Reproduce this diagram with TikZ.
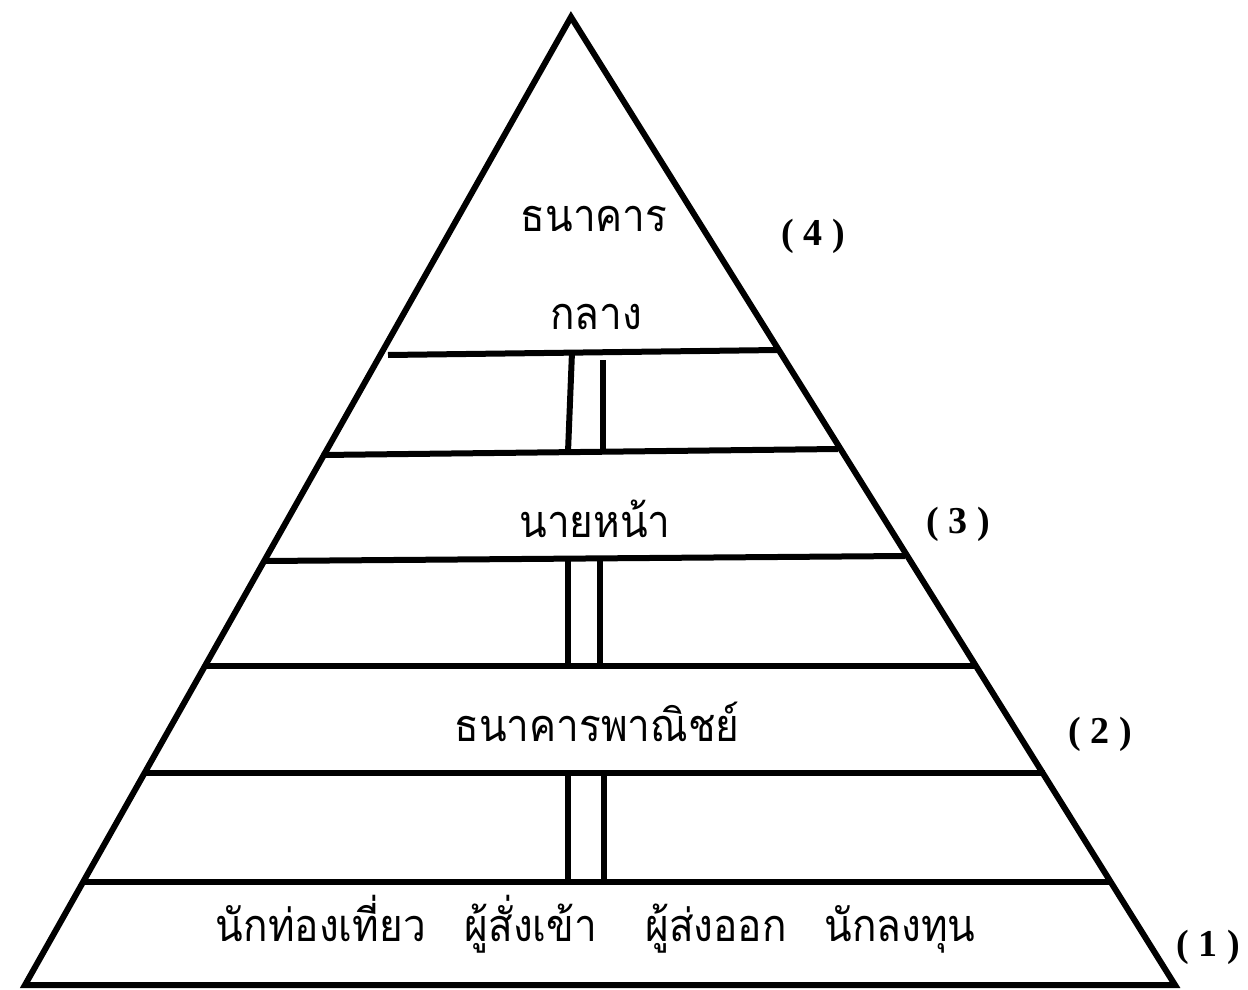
\documentclass[tikz,border=0pt]{standalone}
\usepackage{fontspec}
\setmainfont{Liberation Serif}
\newfontfamily\thaifont[Script=Thai]{Loma}
\newcommand{\thx}[1]{\scalebox{0.9}[1]{#1}}
\begin{document}
\begin{tikzpicture}[x=1pt,y=-1pt,
  edge/.style={line width=6pt,line cap=round,line join=miter},
  bar/.style={line width=6pt},
  thaitext/.style={font=\thaifont\fontsize{45}{50}\selectfont,inner sep=0pt,anchor=base},
  lvl/.style={font=\bfseries\fontsize{38}{42}\selectfont,inner sep=0pt,anchor=base}]
\useasboundingbox (0,0) rectangle (1248,990);
% triangle
\coordinate (apex) at (571,17);
\coordinate (bl) at (25,985);
\coordinate (br) at (1175,985);
\draw[edge] (bl) -- (apex) -- (br) -- cycle;
% horizontal lines
\coordinate (a1) at (388,355); \coordinate (b1) at (778,350);
\coordinate (a2) at (322,455); \coordinate (b2) at (838,449);
\coordinate (a3) at (265,561); \coordinate (b3) at (905,556);
\coordinate (a4) at (203,666); \coordinate (b4) at (975,666);
\coordinate (a5) at (143,773); \coordinate (b5) at (1045,773);
\coordinate (a6) at (85,882);  \coordinate (b6) at (1110,882);
\foreach \i in {1,...,6} {\draw[bar] (a\i) -- (b\i);}
% pillars
\coordinate (p1t) at (572,352); \coordinate (p1b) at (568,452);
\coordinate (q1t) at (603,360); \coordinate (q1b) at (603,452);
\draw[bar] (p1t) -- (p1b); \draw[bar] (q1t) -- (q1b);
\coordinate (p2t) at (568,558); \coordinate (p2b) at (568,666);
\coordinate (q2t) at (600,558); \coordinate (q2b) at (600,666);
\draw[bar] (p2t) -- (p2b); \draw[bar] (q2t) -- (q2b);
\coordinate (p3t) at (568,773); \coordinate (p3b) at (568,882);
\coordinate (q3t) at (604,773); \coordinate (q3b) at (604,882);
\draw[bar] (p3t) -- (p3b); \draw[bar] (q3t) -- (q3b);
% texts
\node[thaitext] (t1) at (594,231) {\thx{ธนาคาร}};
\node[thaitext] (t2) at (596,329) {\thx{กลาง}};
\node[thaitext] (t3) at (595,537) {\thx{นายหน้า}};
\node[thaitext] (t4) at (597,741) {\thx{ธนาคารพาณิชย์}};
\node[thaitext] (w1) at (321,941) {\thx{นักท่องเที่ยว}};
\node[thaitext] (w2) at (531,941) {\thx{ผู้สั่งเข้า}};
\node[thaitext] (w3) at (716,941) {\thx{ผู้ส่งออก}};
\node[thaitext] (w4) at (900,941) {\thx{นักลงทุน}};
% level labels
\node[lvl] (l4) at (813,245) {(\hspace{0.25em}4\hspace{0.25em})};
\node[lvl] (l3) at (958,533) {(\hspace{0.25em}3\hspace{0.25em})};
\node[lvl] (l2) at (1100,743) {(\hspace{0.25em}2\hspace{0.25em})};
\node[lvl] (l1) at (1208,956) {(\hspace{0.25em}1\hspace{0.25em})};
\end{tikzpicture}
\end{document}
